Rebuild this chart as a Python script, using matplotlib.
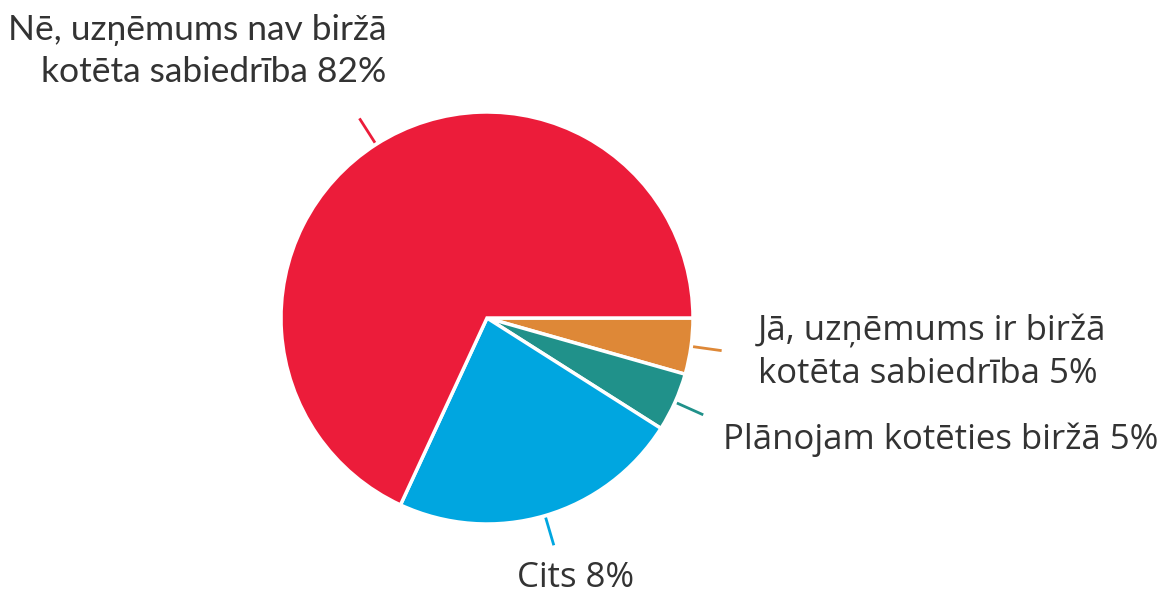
import matplotlib
matplotlib.use("Agg")
import matplotlib.pyplot as plt
import numpy as np

labels = ["Jā, uzņēmums ir biržā\nkotēta sabiedrība 5%",
          "Plānojam kotēties biržā 5%",
          "Cits 8%",
          "Nē, uzņēmums nav biržā\nkotēta sabiedrība 82%"]
values = [4.4, 4.6, 22.9, 68.1]
colors = ["#DE8837", "#20918A", "#00A6E0", "#EC1C3A"]

W, H = 1171, 598
fig = plt.figure(figsize=(W / 100, H / 100), dpi=100)
cx, cy, R = 487, 318, 206
ax = fig.add_axes([(cx - R) / W, (H - cy - R) / H, 2 * R / W, 2 * R / H])
wedges, _ = ax.pie(values, colors=colors, startangle=0, counterclock=False,
                   radius=1, wedgeprops=dict(edgecolor="white", linewidth=2.5))
ax.set_xlim(-1, 1)
ax.set_ylim(-1, 1)
ax.set_axis_off()

def d(px, py):
    return (px - cx) / R, (cy - py) / R

for w in wedges:
    mid = np.deg2rad((w.theta1 + w.theta2) / 2)
    r0, r1 = 1.01, 1.15
    ax.plot([r0 * np.cos(mid), r1 * np.cos(mid)], [r0 * np.sin(mid), r1 * np.sin(mid)],
            color=w.get_facecolor(), lw=2, clip_on=False, solid_capstyle="butt")

tc = "#333333"
fs = 25
fam = ["Open Sans", "DejaVu Sans"]
x, y = d(758, 353)
ax.text(x, y, labels[0], ha="left", va="center", fontsize=fs, color=tc, family=fam,
        linespacing=1.32)
x, y = d(723, 440)
ax.text(x, y, labels[1], ha="left", va="center", fontsize=fs, color=tc, family=fam)
x, y = d(576, 578)
ax.text(x, y, labels[2], ha="center", va="center", fontsize=fs, color=tc, family=fam)
x, y = d(386, 51)
ax.text(x, y, labels[3], ha="right", va="center", fontsize=25.5, color=tc,
        family=["Lato", "DejaVu Sans"], linespacing=1.4, multialignment="right")

fig.savefig("out.png", dpi=100)
